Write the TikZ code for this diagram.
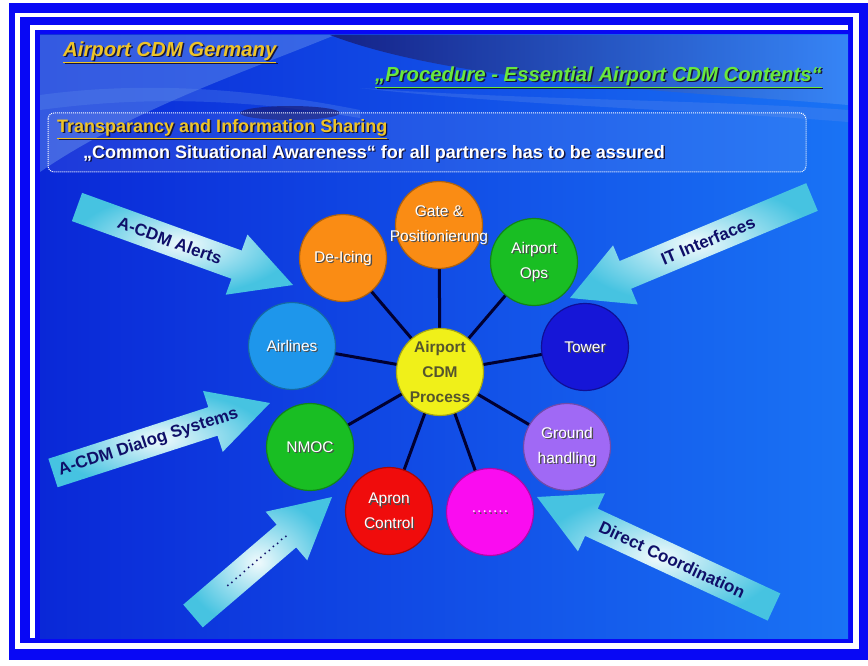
\documentclass[tikz,border=0pt]{standalone}
\usepackage{fontspec}
\setmainfont{Liberation Sans}
\usetikzlibrary{calc}
\definecolor{frameblue}{RGB}{8,8,245}
\definecolor{bgdark}{RGB}{10,40,215}
\definecolor{bglight}{RGB}{25,115,245}
\definecolor{navyc}{RGB}{22,28,120}
\definecolor{swlight}{RGB}{95,140,235}
\definecolor{gold}{RGB}{238,196,40}
\definecolor{ttlgreen}{RGB}{105,232,60}
\definecolor{shadowc}{RGB}{20,20,60}
\definecolor{arrowcyan}{RGB}{70,195,225}
\definecolor{arrowtext}{RGB}{15,15,105}
\definecolor{linec}{RGB}{0,0,50}
\definecolor{corange}{RGB}{250,140,20}
\definecolor{cgreen}{RGB}{25,190,35}
\definecolor{cairl}{RGB}{30,150,235}
\definecolor{ctower}{RGB}{22,22,215}
\definecolor{cyellow}{RGB}{240,240,25}
\definecolor{cpurple}{RGB}{160,105,245}
\definecolor{cred}{RGB}{240,12,12}
\definecolor{cmag}{RGB}{250,12,240}
\definecolor{ccenter}{RGB}{85,85,45}
\pgfdeclarelayer{back}
\pgfdeclarelayer{links}
\pgfsetlayers{back,links,main}
\tikzset{
  circ/.style={circle, minimum size=87pt, inner sep=0pt, line width=1.2pt},
  ctext/.style={align=center, inner sep=0pt, font=\fontsize{15.5}{25}\selectfont},
  link/.style={draw=linec, line width=3pt},
  ttl/.style={inner sep=0pt, font=\fontsize{20.3}{22}\selectfont\bfseries\itshape},
  boxtxt/.style={inner sep=0pt, anchor=west, font=\fontsize{18}{20}\selectfont\bfseries},
  arrowfill/.style={inner color=white!92!arrowcyan, outer color=arrowcyan},
  atext/.style={inner sep=0pt, text=arrowtext, font=\fontsize{17}{19}\selectfont\bfseries},
}
\newcommand\partner[5]{%
  \node[circ, fill=#4, draw=#4!70!black] (#1) at (#2,#3) {};
  \node[ctext, text=black!70] at (#2+1.3,#3+1.3) {#5};
  \node[ctext, text=white] at (#2,#3) {#5};}
\newcommand\fatarrow[4]{%
  \coordinate (tl) at (#1);
  \coordinate (tp) at (#2);
  \coordinate (hb) at ($(tp)!60pt!(tl)$);
  \shade[arrowfill] ($(tl)!15pt!90:(tp)$) -- ($(hb)!15pt!-90:(tl)$) -- ($(hb)!32pt!-90:(tl)$)
     -- (tp) -- ($(hb)!32pt!90:(tl)$) -- ($(hb)!15pt!90:(tl)$) -- ($(tl)!15pt!-90:(tp)$) -- cycle;
  \path (tl) -- (tp) node[pos=#3, sloped, atext] {#4};}
\newcommand\dotrow{\fontsize{11}{11}\selectfont.\kern2.4pt.\kern2.4pt.\kern2.4pt.\kern2.4pt.\kern2.4pt.\kern2.4pt.\kern2.4pt.\kern2.4pt.\kern2.4pt.\kern2.4pt.\kern2.4pt.\kern2.4pt.\kern2.4pt.\kern2.4pt.}
\begin{document}
\begin{tikzpicture}[x=1pt,y=-1pt]
\useasboundingbox (0,0) rectangle (868,666);
\begin{pgfonlayer}{back}
\fill[white] (0,0) rectangle (868,666);
\fill[frameblue] (9,3) rectangle (868,660);
\fill[white] (15,13) rectangle (859,649);
\fill[frameblue] (20,17) rectangle (853,643);
\fill[white] (30,25) rectangle (848,638);
\fill[frameblue] (35,30) rectangle (848,638);
\shade[left color=bgdark, right color=bglight] (40,35) rectangle (848,638);
% swooshes
\fill[swlight, opacity=0.5] (40,35) -- (335,35) .. controls (250,70) and (130,110) .. (40,172) -- cycle;
\fill[swlight, opacity=0.3] (40,95) .. controls (150,80) and (260,90) .. (360,110) -- (360,118)
   .. controls (250,100) and (150,95) .. (40,110) -- cycle;
\shade[left color=navyc, right color=bglight!85!white, opacity=0.85] (330,35) -- (848,35) -- (848,105)
   .. controls (700,92) and (460,85) .. (330,35) -- cycle;
\fill[swlight, opacity=0.3] (360,88) .. controls (520,100) and (720,100) .. (848,110) -- (848,122)
   .. controls (700,110) and (520,106) .. (360,88) -- cycle;
\fill[navyc, opacity=0.7] (290,113) ellipse [x radius=50, y radius=7];
% info box
\draw[white, densely dotted, line width=1pt, fill=white, fill opacity=0.08, rounded corners=6pt]
  (48,113) rectangle (806,172);
\end{pgfonlayer}
% titles
\node[ttl, text=shadowc, anchor=west] at (64.5,53.5) {\underline{Airport CDM Germany}};
\node[ttl, text=gold, anchor=west] (title) at (63,52) {\underline{Airport CDM Germany}};
\node[ttl, text=shadowc, anchor=east] at (823.5,78.5) {\underline{„Procedure - Essential Airport CDM Contents“}};
\node[ttl, text=ttlgreen, anchor=east] (subtitle) at (822,77) {\underline{„Procedure - Essential Airport CDM Contents“}};
\node[boxtxt, text=shadowc] at (58.3,130.3) {\underline{Transparancy and Information Sharing}};
\node[boxtxt, text=gold] (boxhead) at (57,129) {\underline{Transparancy and Information Sharing}};
\node[boxtxt, text=shadowc] at (84.3,155.3) {„Common Situational Awareness“ for all partners has to be assured};
\node[boxtxt, text=white] (boxline) at (83,154) {„Common Situational Awareness“ for all partners has to be assured};
% circles
\node[circ, fill=cyellow, draw=cyellow!70!black] (cdm) at (440,372) {};
\node[ctext, text=ccenter, font=\fontsize{15.5}{25}\selectfont\bfseries] at (440,372) {Airport\\CDM\\Process};
\partner{gate}{439}{225}{corange}{Gate \&\\Positionierung}
\partner{deicing}{343}{258}{corange}{De-Icing}
\partner{ops}{534}{262}{cgreen}{Airport\\Ops}
\partner{airlines}{292}{346}{cairl}{Airlines}
\partner{tower}{585}{347}{ctower}{Tower}
\partner{nmoc}{310}{447}{cgreen}{NMOC}
\partner{ground}{567}{447}{cpurple}{Ground\\handling}
\partner{apron}{389}{511}{cred}{Apron\\Control}
\partner{dots}{490}{512}{cmag}{.\kern1pt.\kern1pt.\kern1pt.\kern1pt.\kern1pt.\kern1pt.}
\begin{pgfonlayer}{links}
\foreach \n in {gate,deicing,ops,airlines,tower,nmoc,ground,apron,dots}
  \draw[link] (cdm.center) -- (\n.center);
\end{pgfonlayer}
% arrows
\fatarrow{77,207}{293,285}{0.43}{A-CDM Alerts}
\fatarrow{812,197}{570,298}{0.43}{IT Interfaces}
\fatarrow{53,473}{270,403}{0.44}{A-CDM Dialog Systems}
\fatarrow{193,616}{332,497}{0.46}{\dotrow}
\fatarrow{774,607}{537,497}{0.43}{Direct Coordination}
\end{tikzpicture}
\end{document}
